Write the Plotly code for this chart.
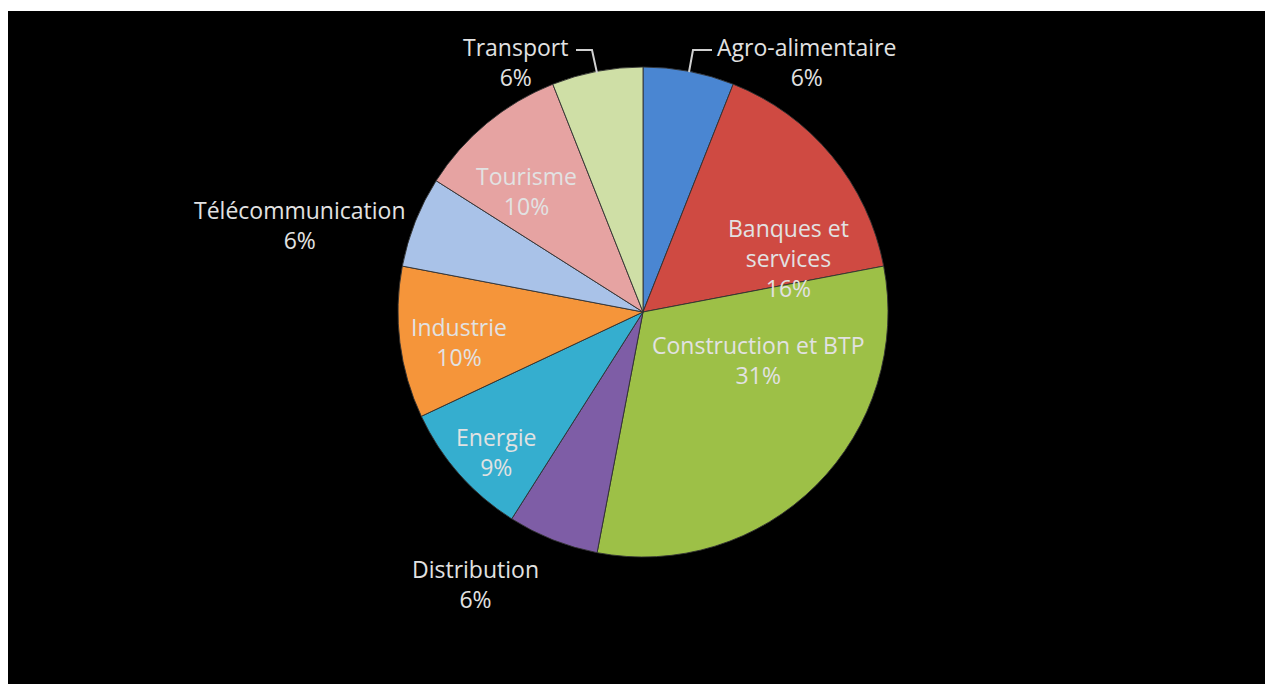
import plotly.graph_objects as go

# ---- data ----
sectors = ["Agro-alimentaire", "Banques et services", "Construction et BTP", "Distribution",
           "Energie", "Industrie", "Télécommunication", "Tourisme", "Transport"]
shares = [6, 16, 31, 6, 9, 10, 6, 10, 6]
label_lines = ["Agro-alimentaire", "Banques et<br>services", "Construction et BTP", "Distribution",
               "Energie", "Industrie", "Télécommunication", "Tourisme", "Transport"]

# ---- styles ----
colors = ["#4A86D2", "#CF4A42", "#9DC047", "#7E5DA6", "#35AECF", "#F5953A",
          "#A9C2E8", "#E6A3A2", "#CFDFA6"]
# label block centres in pixels (layout, not data)
label_pos = [(806, 62), (789, 258), (758, 360), (475, 584), (496, 452),
             (459, 342), (300, 225), (526, 191), (515, 62)]

W, H = 1265, 684
def px(x):
    return x / W
def py(y):
    return 1 - y / H

cx, cy, r = 643, 312, 245

fig = go.Figure(go.Pie(
    labels=sectors,
    values=shares,
    sort=False,
    direction="clockwise",
    rotation=0,
    textinfo="none",
    hoverinfo="label+percent",
    marker=dict(colors=colors, line=dict(color="rgba(50,50,50,0.9)", width=1)),
    domain=dict(x=[px(cx - r), px(cx + r)], y=[py(cy + r), py(cy - r)]),
    showlegend=False,
))

annotations = []
for name, val, (x, y) in zip(label_lines, shares, label_pos):
    annotations.append(dict(
        x=px(x), y=py(y), xref="paper", yref="paper",
        text=f"{name}<br>{val}%", showarrow=False, align="center",
        xanchor="center", yanchor="middle",
        font=dict(family="Open Sans", size=23, color="#E2E2E2"),
    ))

shapes = [
    dict(type="rect", xref="paper", yref="paper", x0=px(8), x1=1, y0=0, y1=py(11),
         fillcolor="black", line=dict(width=0), layer="below"),
    # leader lines
    dict(type="path", xref="paper", yref="paper",
         path=f"M {px(712)},{py(50)} L {px(693)},{py(50)} L {px(689)},{py(72)}",
         line=dict(color="#D0D0D0", width=2)),
    dict(type="path", xref="paper", yref="paper",
         path=f"M {px(576)},{py(50)} L {px(592)},{py(50)} L {px(597)},{py(73)}",
         line=dict(color="#D0D0D0", width=2)),
]

fig.update_layout(
    width=W, height=H,
    margin=dict(l=0, r=0, t=0, b=0),
    paper_bgcolor="white",
    plot_bgcolor="black",
    annotations=annotations,
    shapes=shapes,
)

fig.write_html("out.html", config={"displayModeBar": False},
               post_script="document.body.style.margin='0';document.body.style.overflow='hidden';")
